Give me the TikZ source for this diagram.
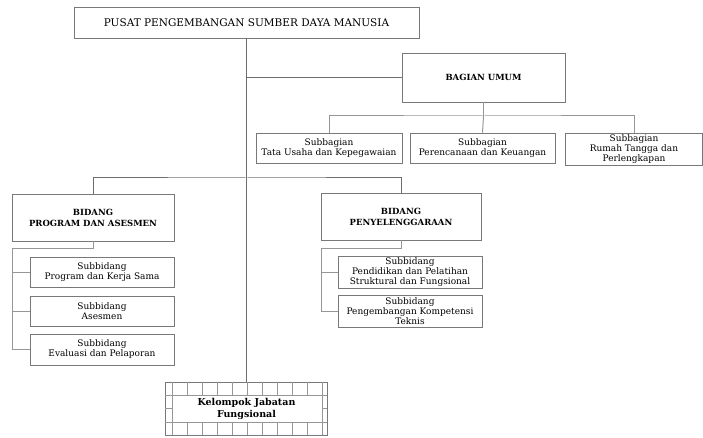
\documentclass[tikz,border=0pt]{standalone}
\usepackage{fontspec}
\setmainfont{DejaVu Serif}
\usetikzlibrary{positioning}
\definecolor{orgline}{RGB}{110,110,110}
\definecolor{orgsub}{RGB}{150,150,150}
\definecolor{orgbox}{RGB}{120,120,120}
\tikzset{
  unitbox/.style={draw=orgbox, line width=0.9pt, align=center, inner sep=1pt, font=\fontsize{9}{10}\selectfont},
  headbox/.style={unitbox, font=\fontsize{8.5}{11}\selectfont\bfseries},
  mainline/.style={draw=orgline, line width=1pt},
  subline/.style={draw=orgsub, line width=1pt},
  gridline/.style={draw=orgsub, line width=0.8pt}
}

\begin{document}
\begin{tikzpicture}[x=1pt,y=-1pt]
\useasboundingbox (0,0) rectangle (703,438);
% Pusat
\node[unitbox, minimum width=345, minimum height=31, font=\fontsize{10.5}{12}\selectfont] (pusat) at (246.5,22.5) {PUSAT PENGEMBANGAN SUMBER DAYA MANUSIA};
% Bagian Umum
\node[headbox, minimum width=163, minimum height=49] (umum) at (483.5,77.5) {BAGIAN UMUM};
\node[unitbox, minimum width=146, minimum height=30] (tatausaha) at (329,148) {Subbagian\\Tata Usaha dan Kepegawaian};
\node[unitbox, minimum width=145, minimum height=30] (renc) at (482.5,148) {Subbagian\\Perencanaan dan Keuangan};
\node[unitbox, minimum width=137, minimum height=32] (rumah) at (634,149) {Subbagian\\Rumah Tangga dan\\Perlengkapan};
% Bidang
\node[headbox, minimum width=162, minimum height=47] (program) at (93,217.5) {BIDANG\\PROGRAM DAN ASESMEN};
\node[headbox, minimum width=160, minimum height=47] (penyel) at (401,216.5) {BIDANG\\PENYELENGGARAAN};
\node[unitbox, minimum width=144, minimum height=30] (kerjasama) at (102,272) {Subbidang\\Program dan Kerja Sama};
\node[unitbox, minimum width=144, minimum height=30] (asesmen) at (102,311) {Subbidang\\Asesmen};
\node[unitbox, minimum width=144, minimum height=31] (evaluasi) at (102,349.5) {Subbidang\\Evaluasi dan Pelaporan};
\node[unitbox, minimum width=144, minimum height=32] (diklat) at (410,272) {Subbidang\\Pendidikan dan Pelatihan\\Struktural dan Fungsional};
\node[unitbox, minimum width=144, minimum height=32] (kompetensi) at (410,311) {Subbidang\\Pengembangan Kompetensi\\Teknis};
% Kelompok Jabatan Fungsional
\node[headbox, minimum width=162, minimum height=53, font=\fontsize{9.5}{12}\selectfont\bfseries] (jabatan) at (246.5,408.5) {Kelompok Jabatan\\Fungsional};
\draw[gridline] (165,395) -- (327,395) (165,422) -- (327,422);
\foreach \x in {172,187,...,322} {
  \draw[gridline] (\x,382) -- (\x,395) (\x,422) -- (\x,435);
}
\draw[gridline] (172,395) -- (172,422) (322,395) -- (322,422);
\draw[gridline] (165,408.5) -- (172,408.5) (322,408.5) -- (327,408.5);
% Main line
\draw[mainline] (pusat.south) -- (jabatan.north);
\draw[mainline] (umum.west) -- (umum.west -| pusat.south);
% Subbagian
\coordinate (umumbus) at (483.5,116);
\draw[subline] (umum.south) -- (umumbus);
\draw[subline] (tatausaha.north) |- (umumbus) -| (rumah.north);
\draw[subline] (umumbus) -- (renc.north);
% Bidang
\coordinate (bidangbus) at (246.5,178);
\draw[mainline] (program.north) |- (bidangbus) -| (penyel.north);
% Subbidang program
\coordinate (progbus) at (93,248);
\coordinate (progleft) at (12,248);
\draw[subline] (program.south) -- (progbus) -- (progleft) |- (evaluasi.west);
\draw[subline] (kerjasama.west) -- (kerjasama.west -| progleft);
\draw[subline] (asesmen.west) -- (asesmen.west -| progleft);
% Subbidang penyelenggaraan
\coordinate (penyelbus) at (401,248);
\coordinate (penyelleft) at (321,248);
\draw[subline] (penyel.south) -- (penyelbus) -- (penyelleft) |- (kompetensi.west);
\draw[subline] (diklat.west) -- (diklat.west -| penyelleft);
\end{tikzpicture}
\end{document}
